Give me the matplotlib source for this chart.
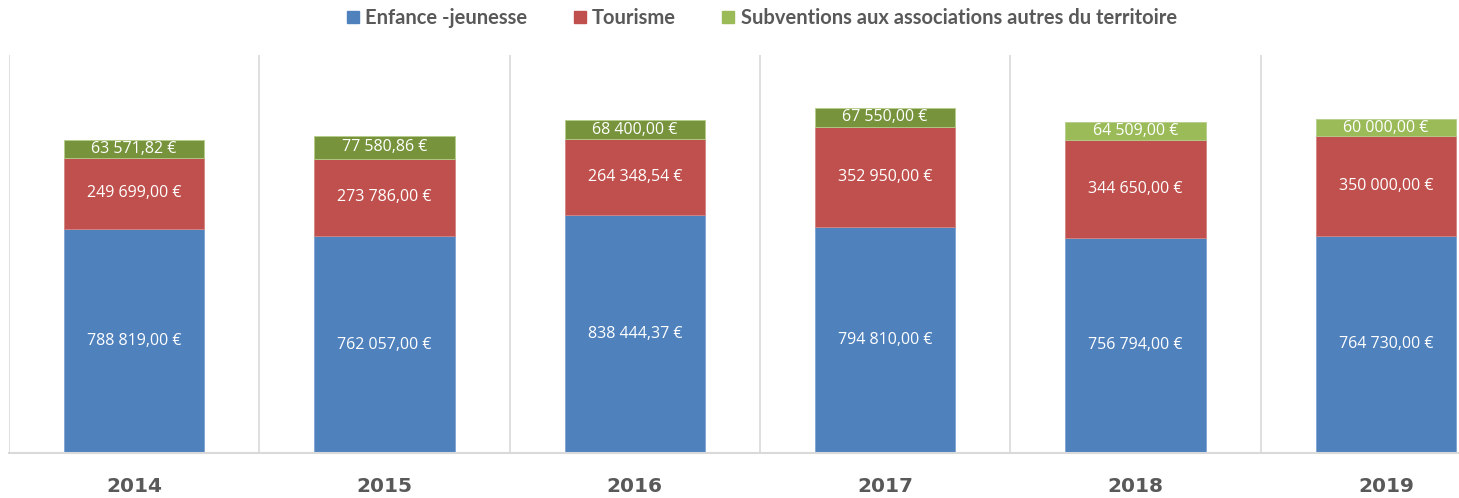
import matplotlib.pyplot as plt
import numpy as np

years = ["2014", "2015", "2016", "2017", "2018", "2019"]
enfance = [788819.00, 762057.00, 838444.37, 794810.00, 756794.00, 764730.00]
tourisme = [249699.00, 273786.00, 264348.54, 352950.00, 344650.00, 350000.00]
subventions = [63571.82, 77580.86, 68400.00, 67550.00, 64509.00, 60000.00]

BLUE = "#4F81BD"
RED = "#C0504D"
GREEN = "#9BBB59"
GREEN_DARK = "#77933C"
green_colors = [GREEN_DARK] * 4 + [GREEN] * 2


def euro(v):
    s = f"{v:,.2f}".replace(",", " ").replace(".", ",")
    return s + " €"


fig = plt.figure(figsize=(14.59, 4.98), dpi=100)
ax = fig.add_axes([9 / 1459, 45 / 498, 1502 / 1459, 398 / 498])

x = np.arange(len(years))
w = 0.56
b1 = ax.bar(x, enfance, w, color=BLUE, edgecolor="#7FA3D3", lw=0.6)
b2 = ax.bar(x, tourisme, w, bottom=enfance, color=RED, edgecolor="#D58583",
            lw=0.6)
bottom3 = np.array(enfance) + np.array(tourisme)
b3 = ax.bar(x, subventions, w, bottom=bottom3, color=green_colors,
            edgecolor="#B5CD8A", lw=0.6)

for bars, vals in ((b1, enfance), (b2, tourisme), (b3, subventions)):
    ax.bar_label(bars, labels=[euro(v) for v in vals], label_type="center",
                 color="white", fontsize=11.5, family="Open Sans")

ax.set_xlim(-0.5, len(years) - 0.5)
ax.set_ylim(0, 1400000)
ax.set_yticks([])
ax.set_xticks(x)
ax.set_xticklabels(years, fontsize=14.5, fontweight="bold", color="#595959",
                   family="DejaVu Sans")
ax.tick_params(axis="x", length=0, pad=17)
for s in ("top", "left", "right"):
    ax.spines[s].set_visible(False)
ax.spines["bottom"].set_color("#D9D9D9")
ax.spines["bottom"].set_linewidth(1.5)
for xv in np.arange(-0.5, len(years), 1.0):
    ax.axvline(xv, color="#D9D9D9", lw=1.2, zorder=0)

handles = [plt.Rectangle((0, 0), 1, 1, color=c) for c in (BLUE, RED, GREEN)]
labels = ["Enfance -jeunesse", "Tourisme",
          "Subventions aux associations autres du territoire"]
fig.legend(handles, labels, loc="center", bbox_to_anchor=(762 / 1459, 1 - 18 / 498),
           ncol=3, frameon=False, handlelength=0.6, handleheight=0.6,
           handletextpad=0.3, columnspacing=2.3,
           prop={"family": "Lato", "weight": "bold", "size": 14.5},
           labelcolor="#595959")

fig.savefig("out.png", dpi=100)
